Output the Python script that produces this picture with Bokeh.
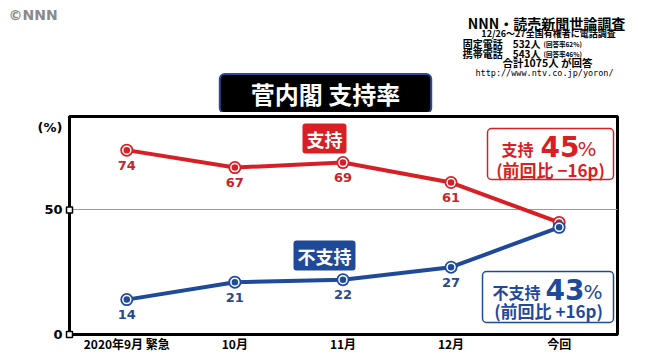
from bokeh.plotting import figure
from bokeh.layouts import column
from bokeh.models import Range1d, FixedTicker, Label, BoxAnnotation
from bokeh.core.properties import value
from bokeh.embed import file_html
from bokeh.resources import INLINE

# ---- data ----
categories = ["2020年9月 緊急", "10月", "11月", "12月", "今回"]
support = [74, 67, 69, 61, 45]
nonsupport = [14, 21, 22, 27, 43]
y_ticks = [0, 50]
y_unit = "(%)"
title_text = "菅内閣 支持率"
support_name = "支持"
nonsupport_name = "不支持"
support_change = "(前回比 −16p)"
nonsupport_change = "(前回比 +16p)"
source_lines = ["NNN・読売新聞世論調査", "12/26〜27全国有権者に電話調査",
                "固定電話　532人", "(回答率62%)", "携帯電話　543人", "(回答率46%)",
                "合計1075人 が回答", "http://www.ntv.co.jp/yoron/"]

RED = "#d71f26"
RED_T = "#c3262c"
BLUE = "#1f4a9a"
BLUE_T = "#2a4a8a"
JP = "Noto Sans CJK JP"
W, H = 653, 354
HEAD = 112

xs = list(range(len(categories)))
XR0, XR1 = -0.53, 4.54
YR1 = 87.5
FL, FR, FT, FB = 69, 617, 116, 334

def dx(px):
    return XR0 + (px - FL) / (FR - FL) * (XR1 - XR0)

def dy(py):
    return (FB - py) / (FB - FT) * YR1

# ---------- header (title + source) ----------
hdr = figure(width=W, height=HEAD, output_backend="svg", toolbar_location=None,
             x_range=Range1d(0, W), y_range=Range1d(HEAD, 0),
             x_axis_location=None, y_axis_location=None, frame_align=False,
             min_border=0, min_border_left=0, min_border_right=0,
             min_border_top=0, min_border_bottom=0)
hdr.outline_line_color = None
hdr.xgrid.grid_line_color = None
hdr.ygrid.grid_line_color = None
hdr.background_fill_color = "white"
hdr.border_fill_color = "white"

def hlab(px, py, text, size, color, align="center", font=JP, style="bold", **kw):
    hdr.add_layout(Label(x=px, y=py, text=text, text_font=font,
                         text_font_size=f"{size}px", text_font_style=style,
                         text_color=color, text_align=align, text_baseline="middle", **kw))

hlab(325, 93, title_text, 24, "white", background_fill_color="black",
     border_line_color="#2a4a9a", border_line_width=2, border_radius=5,
     padding=dict(left=31, right=31, top=2, bottom=2))
hlab(8, 14, "©NNN", 14, "#8a8a8a", align="left", font="DejaVu Sans")
hlab(546, 22, source_lines[0], 14, "black")
hlab(548, 33, source_lines[1], 9, "black")
hlab(540, 43, source_lines[2], 10, "black", align="right")
hlab(543, 43, source_lines[3], 6.5, "black", align="left")
hlab(540, 53, source_lines[4], 10, "black", align="right")
hlab(543, 53, source_lines[5], 6.5, "black", align="left")
hlab(547, 62, source_lines[6], 10.5, "black")
hlab(544, 72, source_lines[7], 8.5, "black", font="DejaVu Sans Mono", style="normal")

# ---------- main chart ----------
p = figure(width=W, height=H - HEAD, output_backend="svg", toolbar_location=None,
           x_range=Range1d(XR0, XR1), y_range=Range1d(0, YR1), frame_align=False,
           min_border_left=FL, min_border_right=W - FR,
           min_border_top=FT - HEAD, min_border_bottom=H - FB)
p.background_fill_color = "white"
p.border_fill_color = "white"
p.outline_line_color = "black"
p.outline_line_width = 3

unit_pos = dy(127)

p.xaxis.ticker = FixedTicker(ticks=xs)
p.xaxis.major_label_overrides = {i: c for i, c in enumerate(categories)}
p.xaxis.major_label_text_font = JP
p.xaxis.major_label_text_font_style = "bold"
p.xaxis.major_label_text_font_size = "12px"
p.xaxis.major_label_text_color = "black"
p.xaxis.major_tick_line_color = None
p.xaxis.major_tick_out = 0
p.xaxis.major_tick_in = 0
p.xaxis.minor_tick_line_color = None
p.xaxis.minor_tick_out = 0
p.xaxis.axis_line_width = 3
p.xaxis.axis_line_color = "black"
p.xaxis.major_label_standoff = 0

p.yaxis.ticker = FixedTicker(ticks=y_ticks + [unit_pos])
p.yaxis.major_label_overrides = {unit_pos: y_unit}
p.yaxis.major_label_text_font = "DejaVu Sans"
p.yaxis.major_label_text_font_style = "bold"
p.yaxis.major_label_text_font_size = "13px"
p.yaxis.major_label_text_color = "black"
p.yaxis.major_tick_line_color = None
p.yaxis.major_tick_out = 0
p.yaxis.minor_tick_line_color = None
p.yaxis.axis_line_width = 3
p.yaxis.axis_line_color = "black"
p.yaxis.major_label_standoff = 7

p.xgrid.grid_line_color = None
p.ygrid.ticker = FixedTicker(ticks=[50])
p.ygrid.grid_line_color = "#9a9a9a"
p.ygrid.grid_line_width = 1

# y tick squares on the axis
p.scatter([XR0] * len(y_ticks), y_ticks, marker="square", size=6,
          fill_color="white", line_color="black", line_width=1.5, level="overlay")

# annotation boxes
p.add_layout(BoxAnnotation(left=dx(487), right=dx(613), top=dy(128), bottom=dy(179),
                           fill_color="white", fill_alpha=1, line_color=RED, line_alpha=1,
                           line_width=1.5, border_radius=4, level="underlay"))
p.add_layout(BoxAnnotation(left=dx(482), right=dx(613), top=dy(271), bottom=dy(322),
                           fill_color="white", fill_alpha=1, line_color=BLUE, line_alpha=1,
                           line_width=1.5, border_radius=4, level="underlay"))

for vals, col in ((support, RED), (nonsupport, BLUE)):
    p.line(xs, vals, line_color=col, line_width=4)
    p.scatter(xs, vals, size=13, fill_color=col, line_color=None)
    p.scatter(xs, vals, size=8, fill_color=col, line_color="white", line_width=1.5)

p.text(xs[:-1], support[:-1], text=[str(v) for v in support[:-1]], y_offset=15,
       text_align="center", text_baseline="middle", text_color=RED_T,
       text_font_size="13px", text_font_style="bold", text_font=value("DejaVu Sans"))
p.text(xs[:-1], nonsupport[:-1], text=[str(v) for v in nonsupport[:-1]], y_offset=15,
       text_align="center", text_baseline="middle", text_color=BLUE_T,
       text_font_size="13px", text_font_style="bold", text_font=value("DejaVu Sans"))

def lab(px, py, text, size, color, align="center", font=JP, style="bold", **kw):
    p.add_layout(Label(x=dx(px), y=dy(py), text=text, text_font=font,
                       text_font_size=f"{size}px", text_font_style=style,
                       text_color=color, text_align=align, text_baseline="middle", **kw))

lab(324, 138, support_name, 18, "white", background_fill_color=RED,
    padding=dict(left=4, right=4, top=2, bottom=2), border_radius=3)
lab(324, 255, nonsupport_name, 18, "white", background_fill_color=BLUE,
    padding=dict(left=4, right=4, top=2, bottom=2), border_radius=3)

lab(533, 148, support_name, 16, RED, align="right")
lab(540, 146, str(support[-1]), 28, RED, align="left", font="DejaVu Sans")
lab(577, 148, "%", 20, RED, align="left", font="DejaVu Sans", style="normal")
lab(550, 169, support_change, 17, RED)
lab(540, 291, nonsupport_name, 16, BLUE, align="right")
lab(545, 289, str(nonsupport[-1]), 28, BLUE, align="left", font="DejaVu Sans")
lab(583, 291, "%", 20, BLUE, align="left", font="DejaVu Sans", style="normal")
lab(548, 310, nonsupport_change, 17, BLUE)

layout = column(hdr, p, spacing=0)
open("out.html", "w").write(file_html(layout, INLINE))
